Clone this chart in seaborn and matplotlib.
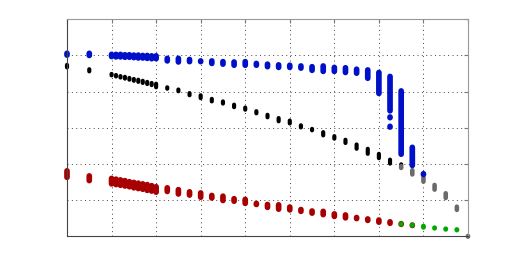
import numpy as np
import pandas as pd
import seaborn as sns
import matplotlib
matplotlib.use("Agg")
import matplotlib.pyplot as plt

# x positions of the sample columns
x_blue = [0, 0.5, 1.0, 1.1, 1.2, 1.3, 1.4, 1.5, 1.6, 1.7, 1.8, 1.9, 2.0,
          2.25, 2.5, 2.75, 3.0, 3.25, 3.5, 3.75, 4.0, 4.25, 4.5, 4.75, 5.0,
          5.25, 5.5, 5.75, 6.0, 6.25, 6.5, 6.75, 7.0, 7.25, 7.25, 7.25, 7.5, 7.75, 8.0]
blue_hi = [5.06, 5.06, 5.03, 5.03, 5.03, 5.02, 5.02, 5.01, 5.01, 5.00, 5.00, 4.99, 4.99,
           4.92, 4.92, 4.89, 4.85, 4.85, 4.83, 4.82, 4.83, 4.78, 4.76, 4.74, 4.73,
           4.71, 4.69, 4.71, 4.67, 4.66, 4.62, 4.60, 4.53, 4.42, 3.30, 3.04, 4.02, 2.46, 1.73]
blue_lo = [5.01, 5.00, 4.97, 4.96, 4.96, 4.95, 4.95, 4.94, 4.93, 4.93, 4.92, 4.91, 4.91,
           4.85, 4.82, 4.83, 4.83, 4.78, 4.76, 4.73, 4.73, 4.73, 4.69, 4.67, 4.67,
           4.65, 4.59, 4.56, 4.56, 4.53, 4.51, 4.37, 3.95, 3.47, 3.28, 3.02, 2.27, 1.96, 1.71]

x_black = [0, 0.5, 1.0, 1.1, 1.2, 1.3, 1.4, 1.5, 1.6, 1.7, 1.8, 1.9, 2.0,
           2.25, 2.5, 2.75, 3.0, 3.25, 3.5, 3.75, 4.0, 4.25, 4.5, 4.75, 5.0,
           5.25, 5.5, 5.75, 6.0, 6.25, 6.5, 6.75, 7.0, 7.25, 7.5]
black_hi = [4.74, 4.62, 4.49, 4.46, 4.43, 4.41, 4.38, 4.35, 4.33, 4.30, 4.27, 4.24, 4.22,
            4.12, 4.06, 3.96, 3.90, 3.80, 3.73, 3.64, 3.56, 3.46, 3.36, 3.27, 3.20,
            3.07, 2.97, 2.88, 2.77, 2.67, 2.54, 2.42, 2.28, 2.12, 1.99]
black_lo = [4.67, 4.56, 4.45, 4.42, 4.39, 4.36, 4.33, 4.30, 4.27, 4.24, 4.21, 4.18, 4.12,
            4.08, 4.01, 3.90, 3.82, 3.73, 3.67, 3.57, 3.50, 3.40, 3.29, 3.18, 3.12,
            3.01, 2.93, 2.79, 2.70, 2.58, 2.42, 2.28, 2.16, 2.01, 1.97]

x_gray = [7.5, 7.75, 8.0, 8.25, 8.5, 8.75, 9.0]
gray_hi = [1.94, 1.83, 1.63, 1.42, 1.19, 0.82, 0.01]
gray_lo = [1.89, 1.71, 1.51, 1.29, 1.06, 0.73, -0.01]

x_red = [0, 0.5, 1.0, 1.1, 1.2, 1.3, 1.4, 1.5, 1.6, 1.7, 1.8, 1.9, 2.0,
         2.25, 2.5, 2.75, 3.0, 3.25, 3.5, 3.75, 4.0, 4.25, 4.5, 4.75, 5.0,
         5.25, 5.5, 5.75, 6.0, 6.25, 6.5, 6.75, 7.0, 7.25, 7.5, 7.75]
red_hi = [1.81, 1.67, 1.60, 1.58, 1.56, 1.54, 1.51, 1.49, 1.47, 1.45, 1.43, 1.40, 1.37,
          1.34, 1.29, 1.23, 1.20, 1.13, 1.11, 1.04, 1.02, 0.91, 0.88, 0.87, 0.81,
          0.74, 0.70, 0.69, 0.62, 0.59, 0.52, 0.48, 0.45, 0.40, 0.35, 0.31]
red_lo = [1.63, 1.54, 1.45, 1.43, 1.41, 1.39, 1.37, 1.34, 1.32, 1.30, 1.27, 1.25, 1.22,
          1.24, 1.17, 1.14, 1.08, 1.06, 0.99, 0.97, 0.91, 0.88, 0.80, 0.75, 0.73,
          0.69, 0.64, 0.60, 0.55, 0.51, 0.49, 0.44, 0.39, 0.36, 0.33, 0.30]

x_green = [7.5, 7.75, 8.0, 8.25, 8.5, 8.75]
green_hi = [0.345, 0.315, 0.28, 0.235, 0.205, 0.185]
green_lo = [0.335, 0.305, 0.25, 0.225, 0.195, 0.175]

colors = {"red": "#a80000", "black": "#000000", "gray": "#6a6a6a",
          "green": "#00a800", "blue": "#0010c8"}
widths = {"red": 4.1, "black": 3.0, "gray": 3.3, "green": 3.6, "blue": 4.1}


def segments(xs, his, los):
    # one short vertical stroke per sample column (spread of the repeated points)
    rows = []
    for i, (x, h, l) in enumerate(zip(xs, his, los)):
        rows.append((x, l, i))
        rows.append((x, h, i))
    return pd.DataFrame(rows, columns=["x", "y", "seg"])


series = [("red", x_red, red_hi, red_lo),
          ("black", x_black, black_hi, black_lo),
          ("gray", x_gray, gray_hi, gray_lo),
          ("green", x_green, green_hi, green_lo),
          ("blue", x_blue, blue_hi, blue_lo)]

sns.set_style("white")
fig = plt.figure(figsize=(5.17, 2.66), dpi=100)
ax = fig.add_axes([67 / 517, 1 - 236.3 / 266, (468 - 67) / 517, (236.3 - 19.3) / 266])

for name, xs, his, los in series:
    df = segments(xs, his, los)
    sns.lineplot(data=df, x="x", y="y", units="seg", estimator=None, sort=False,
                 color=colors[name], lw=widths[name], solid_capstyle="round",
                 snap=False, clip_on=False, ax=ax)

ax.set_xlim(0, 9)
ax.set_ylim(0, 6)
ax.set_xticks(np.arange(0, 10, 1))
ax.set_yticks(np.arange(0, 7, 1))
ax.grid(True, color="#444444", linestyle=(0, (1, 3.5)), linewidth=0.7)
ax.set_axisbelow(True)
ax.tick_params(direction="in", length=3, color="#777777", top=True, right=True,
               labelbottom=False, labelleft=False)
ax.set_xlabel("")
ax.set_ylabel("")
for side in ["left", "bottom"]:
    ax.spines[side].set_color("#444444")
for side in ["top", "right"]:
    ax.spines[side].set_color("#999999")
for s in ax.spines.values():
    s.set_linewidth(0.8)

fig.savefig("out.png", dpi=100)
